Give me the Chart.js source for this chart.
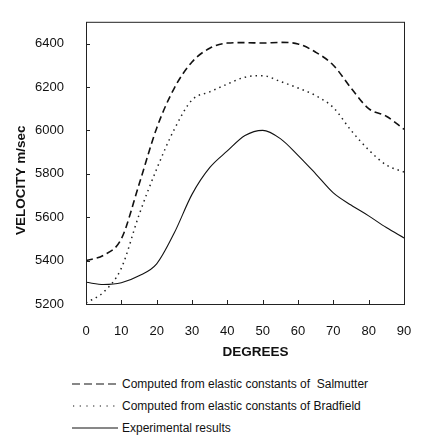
<!DOCTYPE html>
<html>
<head>
<meta charset="utf-8">
<script src="https://cdn.jsdelivr.net/npm/chart.js@4"></script>
<style>
  body { margin: 0; background: #fff; }
  #wrap { position: relative; width: 426px; height: 362px; }
  #legend { position: absolute; left: 72px; top: 373px; font: 12px "Liberation Sans", Arial, sans-serif; color: #111; }
  #legend div { height: 22px; display: flex; align-items: center; }
  #legend svg { margin-right: 2px; }
</style>
</head>
<body>
<div id="wrap"><canvas id="chart" width="426" height="362"></canvas></div>
<div id="legend"></div>
<script>
// angle in degrees
const degrees = [0, 5, 10, 15, 20, 25, 30, 35, 40, 45, 50, 55, 60, 65, 70, 75, 80, 85, 90];
const salmutter = [5400, 5425, 5500, 5750, 6010, 6195, 6315, 6378, 6402, 6404, 6402, 6405, 6398, 6360, 6300, 6195, 6100, 6065, 6005];
const bradfield = [5205, 5255, 5365, 5610, 5822, 6005, 6140, 6177, 6213, 6245, 6252, 6225, 6195, 6160, 6105, 6000, 5910, 5840, 5808];
const experimental = [5300, 5290, 5298, 5330, 5385, 5528, 5705, 5828, 5905, 5976, 6000, 5962, 5885, 5800, 5712, 5656, 5606, 5552, 5504];
const xTicks = [0, 10, 20, 30, 40, 50, 60, 70, 80, 90];
const yTicks = [5200, 5400, 5600, 5800, 6000, 6200, 6400];

const seriesNames = [
  'Computed from elastic constants of  Salmutter',
  'Computed from elastic constants of Bradfield',
  'Experimental results'
];
const xTitle = 'DEGREES';
const yTitle = 'VELOCITY m/sec';

const font = { family: '"Liberation Sans", Arial, sans-serif', size: 13 };
const titleFont = 'bold 13.5px "Liberation Sans", Arial, sans-serif';

function pts(ys) {
  return degrees.map((d, i) => ({ x: d, y: ys[i] }));
}

// box round the plot, inward ticks, and the two axis titles
const frame = {
  id: 'frame',
  afterDraw(chart) {
    const { ctx, chartArea: a, scales } = chart;
    ctx.save();
    ctx.strokeStyle = '#222';
    ctx.lineWidth = 1;
    ctx.strokeRect(a.left + 0.5, a.top + 0.5, a.right - a.left, a.bottom - a.top);
    ctx.beginPath();
    xTicks.forEach(v => {
      const x = Math.round(scales.x.getPixelForValue(v)) + 0.5;
      ctx.moveTo(x, a.bottom);
      ctx.lineTo(x, a.bottom - 4);
    });
    yTicks.forEach(v => {
      const y = Math.round(scales.y.getPixelForValue(v)) + 0.5;
      ctx.moveTo(a.left, y);
      ctx.lineTo(a.left + 4, y);
    });
    ctx.stroke();

    ctx.fillStyle = '#111';
    ctx.font = titleFont;
    ctx.textAlign = 'center';
    ctx.textBaseline = 'middle';
    ctx.fillText(xTitle, scales.x.getPixelForValue(48), 352);
    ctx.translate(21, scales.y.getPixelForValue(5770));
    ctx.rotate(-Math.PI / 2);
    ctx.fillText(yTitle, 0, 0);
    ctx.restore();
  }
};

new Chart(document.getElementById('chart'), {
  type: 'line',
  data: {
    datasets: [{
      label: seriesNames[0],
      data: pts(salmutter),
      borderColor: '#111',
      borderWidth: 1.6,
      borderDash: [7, 4]
    }, {
      label: seriesNames[1],
      data: pts(bradfield),
      borderColor: '#222',
      borderWidth: 1.5,
      borderDash: [1.5, 4]
    }, {
      label: seriesNames[2],
      data: pts(experimental),
      borderColor: '#111',
      borderWidth: 1.1
    }]
  },
  options: {
    responsive: false,
    animation: false,
    layout: { padding: { top: 8, right: 22, left: 0, bottom: 0 } },
    elements: {
      point: { radius: 0 },
      line: { cubicInterpolationMode: 'monotone', fill: false }
    },
    plugins: {
      legend: { display: false },
      tooltip: { enabled: false }
    },
    scales: {
      x: {
        type: 'linear',
        min: 0,
        max: 90,
        afterBuildTicks: s => { s.ticks = xTicks.map(v => ({ value: v })); },
        afterFit: s => { s.height = 58; },
        grid: { display: false },
        border: { display: false },
        ticks: { color: '#111', font: font, padding: 12, maxRotation: 0, callback: v => String(v) }
      },
      y: {
        min: 5200,
        max: 6500,
        afterBuildTicks: s => { s.ticks = yTicks.map(v => ({ value: v })); },
        afterFit: s => { s.width = 86; },
        grid: { display: false },
        border: { display: false },
        ticks: { color: '#111', font: font, padding: 14, callback: v => String(v) }
      }
    }
  },
  plugins: [frame]
});

// legend below the chart
const legend = document.getElementById('legend');
const samples = [
  '<line x1="0" y1="6" x2="46" y2="6" stroke="#111" stroke-width="1.2" stroke-dasharray="8,4"/>',
  '<line x1="1" y1="6" x2="46" y2="6" stroke="#111" stroke-width="1.2" stroke-dasharray="1.2,5.5"/>',
  '<line x1="0" y1="6" x2="46" y2="6" stroke="#111" stroke-width="1"/>'
];
seriesNames.forEach((name, i) => {
  const row = document.createElement('div');
  row.innerHTML = '<svg width="48" height="12">' + samples[i] + '</svg><span style="white-space:pre">' + name + '</span>';
  legend.appendChild(row);
});
</script>
</body>
</html>
